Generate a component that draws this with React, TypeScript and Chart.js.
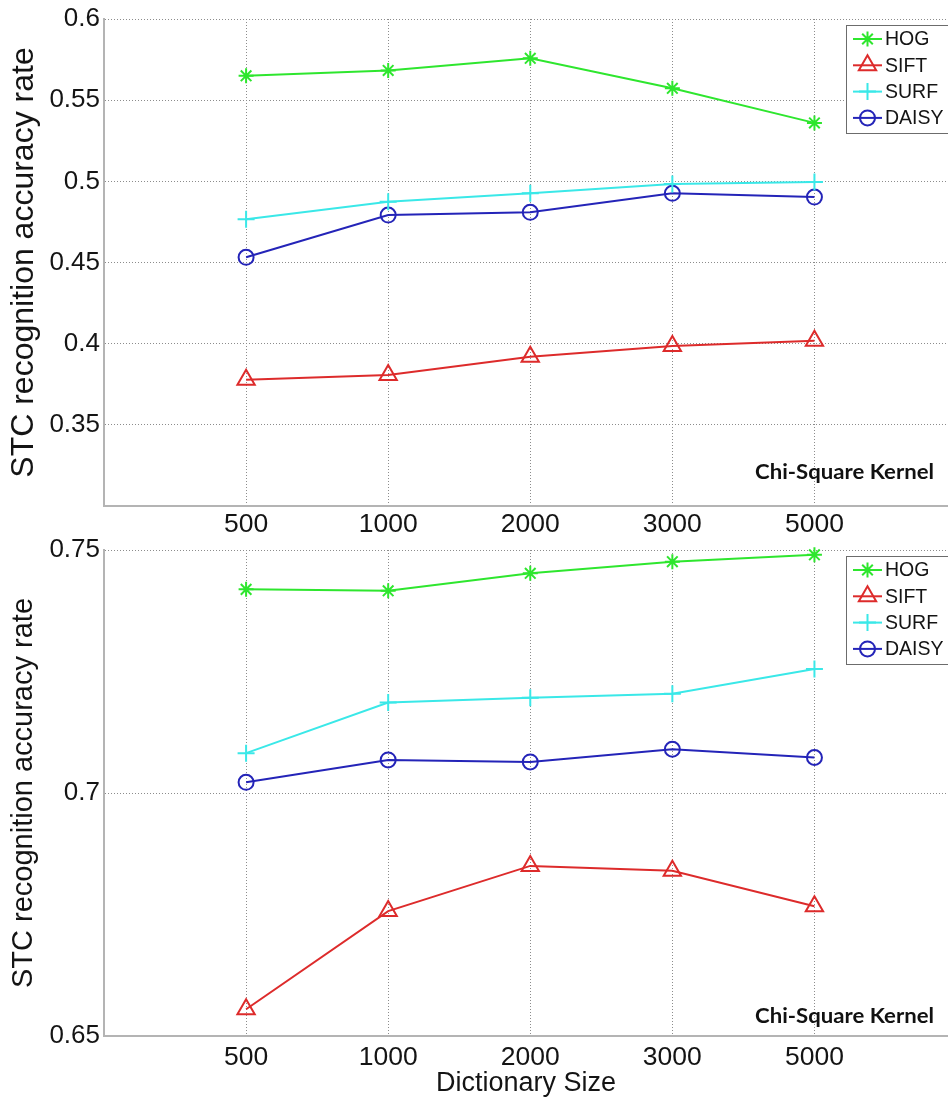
import React, { useEffect, useRef } from 'react';
import { Chart, registerables } from 'chart.js';
import { drawPoint } from 'chart.js/helpers';

Chart.register(...registerables);

// ---------- data ----------
const dictionarySizes = ['500', '1000', '2000', '3000', '5000'];
const seriesNames = ['HOG', 'SIFT', 'SURF', 'DAISY'];

const topHOG = [0.565, 0.5683, 0.5758, 0.5573, 0.536];
const topSIFT = [0.3777, 0.3807, 0.392, 0.3985, 0.4018];
const topSURF = [0.4766, 0.4874, 0.4926, 0.4983, 0.4996];
const topDAISY = [0.4532, 0.4792, 0.4809, 0.4926, 0.4903];

const bottomHOG = [0.7419, 0.7416, 0.7452, 0.7476, 0.749];
const bottomSIFT = [0.6555, 0.6757, 0.685, 0.684, 0.6767];
const bottomSURF = [0.7082, 0.7186, 0.7196, 0.7204, 0.7255];
const bottomDAISY = [0.7022, 0.7068, 0.7064, 0.709, 0.7073];

const topYTicks = [0.35, 0.4, 0.45, 0.5, 0.55, 0.6];
const bottomYTicks = [0.65, 0.7, 0.75];

const yTitle = 'STC recognition accuracy rate';
const xTitle = 'Dictionary Size';
const kernelLabel = 'Chi-Square Kernel';

// ---------- styles ----------
const seriesColors = ['#2ee62e', '#dd2b2b', '#3ae8e8', '#2424b8'];
const seriesPointStyles = ['star', 'triangle', 'cross', 'circle'];
const seriesPointRadius = [7.5, 10, 8.5, 7.5];

const FONT = '"Liberation Sans", Arial, Helvetica, sans-serif';
const TEXT = '#141414';
const GRID = '#8c8c8c';
const AXIS = '#b4b4b4';

const boxLegendPlugin = {
  id: 'boxLegend',
  afterDraw(chart: any, _args: any, opts: any) {
    const { ctx } = chart;
    ctx.save();
    ctx.fillStyle = '#ffffff';
    ctx.fillRect(opts.x, opts.y, opts.w, opts.h);
    ctx.strokeStyle = '#6c6c6c';
    ctx.lineWidth = 1;
    ctx.strokeRect(opts.x + 0.5, opts.y + 0.5, opts.w, opts.h);
    chart.data.datasets.forEach((ds: any, i: number) => {
      const cy = opts.y + opts.first + i * opts.gap;
      ctx.strokeStyle = ds.borderColor;
      ctx.lineWidth = ds.borderWidth;
      ctx.beginPath();
      ctx.moveTo(opts.x + 7, cy);
      ctx.lineTo(opts.x + 36, cy);
      ctx.stroke();
      ctx.fillStyle = 'rgba(0,0,0,0)';
      ctx.lineWidth = ds.pointBorderWidth;
      drawPoint(ctx, { pointStyle: ds.pointStyle, radius: ds.pointRadius, borderWidth: ds.pointBorderWidth, rotation: 0 }, opts.x + 21.5, cy);
      ctx.fillStyle = TEXT;
      ctx.font = `19.5px ${FONT}`;
      ctx.textBaseline = 'middle';
      ctx.textAlign = 'left';
      ctx.fillText(ds.label, opts.x + 39, cy + 1);
    });
    ctx.restore();
  },
};

const kernelPlugin = {
  id: 'kernelText',
  afterDraw(chart: any, _args: any, opts: any) {
    const { ctx } = chart;
    ctx.save();
    ctx.font = `bold 20px Lato, "Open Sans", sans-serif`;
    ctx.fillStyle = '#111111';
    ctx.textBaseline = 'alphabetic';
    ctx.textAlign = 'left';
    const m = ctx.measureText(opts.text).width;
    const f = opts.w / m;
    ctx.translate(opts.x, opts.y);
    ctx.scale(f, 1);
    ctx.fillText(opts.text, 0, 0);
    ctx.restore();
  },
};

function buildConfig(p: {
  series: number[][];
  yMin: number;
  yMax: number;
  yTicks: number[];
  padTop: number;
  xHeight: number;
  xTickPad: number;
  showXTitle: boolean;
  legendY: number;
  kernelY: number;
  yTitleSize: number;
  yTitlePad: number;
}) {
  const datasets = p.series.map((vals, i) => ({
    label: seriesNames[i],
    data: vals.map((v, j) => ({ x: j + 1, y: v })),
    borderColor: seriesColors[i],
    backgroundColor: seriesColors[i],
    borderWidth: 2,
    pointStyle: seriesPointStyles[i],
    pointRadius: seriesPointRadius[i],
    pointBorderWidth: 2,
    pointBorderColor: seriesColors[i],
    pointBackgroundColor: 'rgba(0,0,0,0)',
    tension: 0,
    fill: false,
    clip: false,
  }));
  return {
    type: 'line',
    data: { datasets },
    options: {
      animation: false,
      responsive: false,
      events: [],
      layout: { autoPadding: false, padding: { top: p.padTop, left: 0, right: 0, bottom: 0 } },
      plugins: {
        legend: { display: false },
        tooltip: { enabled: false },
        boxLegend: { x: 846, y: p.legendY, w: 120, h: 108, first: 14, gap: 26.3 },
        kernelText: { text: kernelLabel, x: 755, y: p.kernelY, w: 179 },
      },
      scales: {
        x: {
          type: 'linear',
          min: 0,
          max: 5.94,
          afterBuildTicks: (s: any) => {
            s.ticks = dictionarySizes.map((_, i) => ({ value: i + 1 }));
          },
          afterFit: (s: any) => {
            s.height = p.xHeight;
            s.paddingLeft = 0;
            s.paddingRight = 0;
          },
          ticks: {
            autoSkip: false,
            maxRotation: 0,
            padding: p.xTickPad,
            color: TEXT,
            font: { family: FONT, size: 26.5 },
            callback: (v: any) => dictionarySizes[Math.round(v) - 1] ?? '',
          },
          grid: { color: GRID, lineWidth: 1, drawTicks: false },
          border: { display: true, color: AXIS, width: 2, dash: [1, 2] },
          title: {
            display: p.showXTitle,
            text: xTitle,
            color: TEXT,
            font: { family: FONT, size: 27 },
            padding: { top: 0, bottom: 0 },
          },
        },
        y: {
          type: 'linear',
          min: p.yMin,
          max: p.yMax,
          afterBuildTicks: (s: any) => {
            s.ticks = p.yTicks.map((v) => ({ value: v }));
          },
          afterFit: (s: any) => {
            s.width = 104;
            s.paddingTop = 0;
            s.paddingBottom = 0;
          },
          ticks: {
            padding: 4,
            color: TEXT,
            font: { family: FONT, size: 26 },
            callback: (v: any) => String(Math.round(v * 100) / 100),
          },
          grid: { color: GRID, lineWidth: 1, drawTicks: false },
          border: { display: true, color: AXIS, width: 2, dash: [1, 2] },
          title: {
            display: true,
            text: yTitle,
            color: TEXT,
            font: { family: FONT, size: p.yTitleSize },
            padding: { top: p.yTitlePad, bottom: 0 },
          },
        },
      },
    },
    plugins: [boxLegendPlugin, kernelPlugin],
  };
}

function LineChart(props: { cfg: any; width: number; height: number; top: number }) {
  const ref = useRef<HTMLCanvasElement | null>(null);
  useEffect(() => {
    if (!ref.current) return;
    const chart = new Chart(ref.current, props.cfg);
    return () => chart.destroy();
  }, []);
  return (
    <canvas
      ref={ref}
      width={props.width}
      height={props.height}
      style={{ position: 'absolute', left: 0, top: props.top, width: props.width, height: props.height }}
    />
  );
}

export default function App() {
  useEffect(() => {
    document.body.style.margin = '0';
    document.body.style.background = '#ffffff';
  }, []);
  const topCfg = buildConfig({
    series: [topHOG, topSIFT, topSURF, topDAISY],
    yMin: 0.3,
    yMax: 0.6,
    yTicks: topYTicks,
    padTop: 19,
    xHeight: 34,
    xTickPad: 3,
    showXTitle: false,
    legendY: 25,
    kernelY: 479,
    yTitleSize: 32,
    yTitlePad: 5,
  });
  const bottomCfg = buildConfig({
    series: [bottomHOG, bottomSIFT, bottomSURF, bottomDAISY],
    yMin: 0.65,
    yMax: 0.75,
    yTicks: bottomYTicks,
    padTop: 20,
    xHeight: 64,
    xTickPad: 6,
    showXTitle: true,
    legendY: 26,
    kernelY: 493,
    yTitleSize: 29,
    yTitlePad: 7,
  });
  return (
    <div style={{ position: 'relative', width: 948, height: 1100, overflow: 'hidden', background: '#fff' }}>
      <LineChart cfg={topCfg} width={948} height={540} top={0} />
      <LineChart cfg={bottomCfg} width={948} height={570} top={530} />
    </div>
  );
}
